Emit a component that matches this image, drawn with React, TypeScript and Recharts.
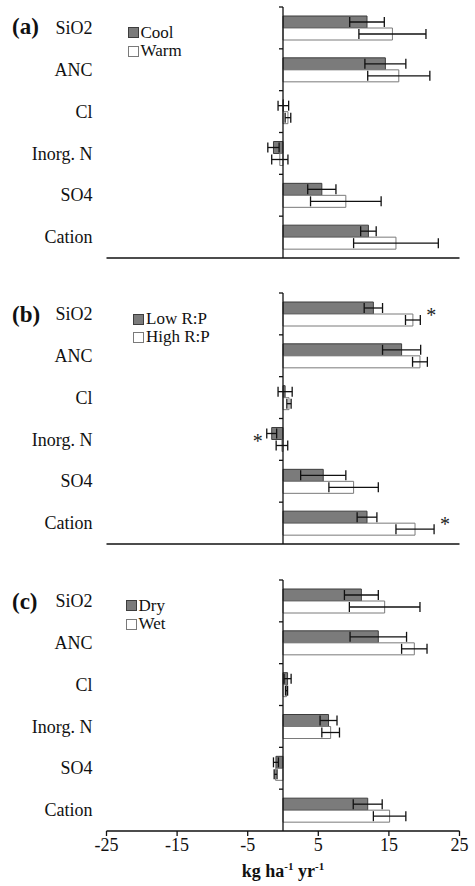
import React from 'react';
import { BarChart, Bar, XAxis, YAxis, ErrorBar, ReferenceLine, Legend, Rectangle } from 'recharts';

const categories = ['SiO2', 'ANC', 'Cl', 'Inorg. N', 'SO4', 'Cation'];
const xTicks = [-25, -15, -5, 5, 15, 25];

const coolVals = [11.9, 14.5, 0.05, -1.35, 5.5, 12.1];
const coolErrs = [2.45, 2.9, 0.75, 0.8, 2.0, 1.1];
const warmVals = [15.5, 16.4, 0.7, -0.45, 8.9, 16.0];
const warmErrs = [4.75, 4.4, 0.4, 1.15, 5.0, 6.0];

const lowVals = [12.8, 16.8, 0.3, -1.6, 5.7, 11.9];
const lowErrs = [1.3, 2.7, 1.0, 0.7, 3.2, 1.4];
const highVals = [18.4, 19.4, 0.85, -0.15, 10.0, 18.7];
const highErrs = [1.05, 1.05, 0.3, 0.82, 3.5, 2.7];
const lowSig = [false, false, false, true, false, false];
const highSig = [true, false, false, false, false, true];

const dryVals = [11.1, 13.5, 0.65, 6.45, -1.0, 12.0];
const dryErrs = [2.4, 4.0, 0.5, 1.2, 0.35, 2.05];
const wetVals = [14.4, 18.6, 0.5, 6.75, -1.05, 15.1];
const wetErrs = [5.0, 1.8, 0.15, 1.25, 0.2, 2.3];
const noSig = [false, false, false, false, false, false];

const FONT = '"Liberation Serif", "Times New Roman", Times, serif';
const W = 475;
const M_LEFT = 6.5;
const Y_W = 100;
const M_RIGHT = 15.5;
const PLOT_LEFT = M_LEFT + Y_W;
const PLOT_W = W - PLOT_LEFT - M_RIGHT;
const PLOT_H = 251;
const XMIN = -25;
const XMAX = 25;
const ZERO_X = PLOT_LEFT + (PLOT_W * (0 - XMIN)) / (XMAX - XMIN);
const BAND = PLOT_H / categories.length;

const DARK_FILL = '#7b7b7b';
const DARK_STROKE = '#3d3d3d';
const LIGHT_FILL = '#ffffff';
const LIGHT_STROKE = '#7a7a7a';

function buildRows(a: number[], ae: number[], b: number[], be: number[], as: boolean[], bs: boolean[]) {
  return categories.map((cat, i) => ({ cat, a: a[i], ae: ae[i], b: b[i], be: be[i], as: as[i], bs: bs[i] }));
}

const CatTick = (props: any) => {
  const { x, y, payload } = props;
  return (
    <g>
      <text x={x} y={y} dy="0.34em" textAnchor="end" fontFamily={FONT} fontSize={18} fill="#111">
        {payload.value}
      </text>
      <line x1={ZERO_X - 4} x2={ZERO_X} y1={y - BAND / 2} y2={y - BAND / 2} stroke="#111" strokeWidth={1.3} />
    </g>
  );
};

const makeShape = (errKey: string, sigKey: string, side: 'top' | 'bottom') => (props: any) => {
  const { x, y, width, height, payload, value } = props;
  const v = Array.isArray(value) ? value[1] - value[0] : payload[side === 'top' ? 'b' : 'a'];
  let star = null;
  if (payload && payload[sigKey]) {
    const scale = Math.abs(width) / Math.max(Math.abs(v), 1e-6);
    const errPx = payload[errKey] * scale;
    const left = Math.min(x, x + width);
    const right = Math.max(x, x + width);
    const cy = side === 'top' ? y : y + height;
    const sx = v >= 0 ? right + errPx + 11 : left - errPx - 9;
    star = (
      <text x={sx} y={cy + 8} textAnchor="middle" fontFamily={FONT} fontSize={20} fill="#222">
        *
      </text>
    );
  }
  return (
    <g>
      <Rectangle {...props} />
      {star}
    </g>
  );
};

const makeLegend = (names: string[], row: number) => () => (
  <div style={{ fontFamily: FONT, fontSize: 17, lineHeight: `${row}px`, color: '#111' }}>
    {names.map((n, i) => (
      <div key={n} style={{ display: 'flex', alignItems: 'center', whiteSpace: 'nowrap', height: row }}>
        <span
          style={{
            display: 'inline-block',
            width: 11,
            height: 11,
            marginRight: 2,
            boxSizing: 'border-box',
            background: i === 0 ? DARK_FILL : LIGHT_FILL,
            border: `1px solid ${i === 0 ? DARK_STROKE : LIGHT_STROKE}`,
          }}
        />
        <span>{n}</span>
      </div>
    ))}
  </div>
);

const AxisTitle = (props: any) => {
  const vb = props.viewBox || {};
  const cx = vb.x + vb.width / 2;
  const by = vb.y + 46;
  return (
    <text x={cx} y={by} textAnchor="middle" fontFamily={FONT} fontSize={18} fontWeight="bold" fill="#111">
      <tspan>kg ha</tspan>
      <tspan fontSize={11} dy={-7}>-1</tspan>
      <tspan dy={7}> yr</tspan>
      <tspan fontSize={11} dy={-7}>-1</tspan>
    </text>
  );
};

type PanelProps = {
  top: number;
  label: string;
  labelTop: number;
  names: string[];
  rows: any[];
  legendPos: { left: number; top: number; row: number };
  showTicks: boolean;
};

const Panel = ({ top, label, labelTop, names, rows, legendPos, showTicks }: PanelProps) => {
  const xAxisH = showTicks ? 50 : 12;
  const mTop = 7;
  const h = mTop + PLOT_H + xAxisH + 3;
  return (
    <div style={{ position: 'absolute', left: 0, top, width: W, height: h }}>
      <BarChart
        width={W}
        height={h}
        data={rows}
        layout="vertical"
        margin={{ top: mTop, right: M_RIGHT, bottom: 3, left: M_LEFT }}
        barSize={12}
        barGap={0}
      >
        <XAxis
          type="number"
          domain={[XMIN, XMAX]}
          ticks={xTicks}
          allowDataOverflow
          height={xAxisH}
          axisLine={{ stroke: '#111', strokeWidth: 1.3 }}
          tickLine={{ stroke: '#111', strokeWidth: 1.3 }}
          tickSize={5}
          tick={showTicks ? { fontFamily: FONT, fontSize: 18, fill: '#111' } : false}
          interval={0}
          label={showTicks ? <AxisTitle /> : undefined}
        />
        <YAxis
          type="category"
          dataKey="cat"
          width={Y_W}
          axisLine={false}
          tickLine={false}
          tickSize={0}
          tickMargin={14}
          tick={<CatTick />}
          interval={0}
        />
        <ReferenceLine x={0} stroke="#111" strokeWidth={1.3} ifOverflow="extendDomain" />
        <Legend
          layout="vertical"
          align="center"
          verticalAlign="middle"
          content={makeLegend(names, legendPos.row)}
          wrapperStyle={{ position: 'absolute', left: legendPos.left, top: legendPos.top, width: 'auto', height: 'auto' }}
        />
        <Bar
          dataKey="a"
          name={names[0]}
          fill={DARK_FILL}
          stroke={DARK_STROKE}
          strokeWidth={1}
          isAnimationActive={false}
          shape={makeShape('ae', 'as', 'bottom')}
        >
          <ErrorBar dataKey="ae" direction="x" width={5} stroke="#111" strokeWidth={1.3} />
        </Bar>
        <Bar
          dataKey="b"
          name={names[1]}
          fill={LIGHT_FILL}
          stroke={LIGHT_STROKE}
          strokeWidth={1}
          isAnimationActive={false}
          shape={makeShape('be', 'bs', 'top')}
        >
          <ErrorBar dataKey="be" direction="x" width={5} stroke="#111" strokeWidth={1.3} />
        </Bar>
      </BarChart>
      <div
        style={{
          position: 'absolute',
          left: 12,
          top: labelTop,
          fontFamily: FONT,
          fontSize: 23,
          fontWeight: 'bold',
          color: '#111',
          lineHeight: '26px',
        }}
      >
        {label}
      </div>
    </div>
  );
};

export default function App() {
  return (
    <div style={{ position: 'absolute', left: 0, top: 0, width: W, height: 886, background: '#fff', overflow: 'hidden' }}>
      <Panel
        top={0}
        label="(a)"
        labelTop={13.5}
        names={['Cool', 'Warm']}
        rows={buildRows(coolVals, coolErrs, warmVals, warmErrs, noSig, noSig)}
        legendPos={{ left: 127.5, top: 23.5, row: 18.5 }}
        showTicks={false}
      />
      <Panel
        top={286.3}
        label="(b)"
        labelTop={15.5}
        names={['Low R:P', 'High R:P']}
        rows={buildRows(lowVals, lowErrs, highVals, highErrs, lowSig, highSig)}
        legendPos={{ left: 133, top: 23.5, row: 18.5 }}
        showTicks={false}
      />
      <Panel
        top={573}
        label="(c)"
        labelTop={15.5}
        names={['Dry', 'Wet']}
        rows={buildRows(dryVals, dryErrs, wetVals, wetErrs, noSig, noSig)}
        legendPos={{ left: 125.5, top: 23.5, row: 18.5 }}
        showTicks={true}
      />
    </div>
  );
}
